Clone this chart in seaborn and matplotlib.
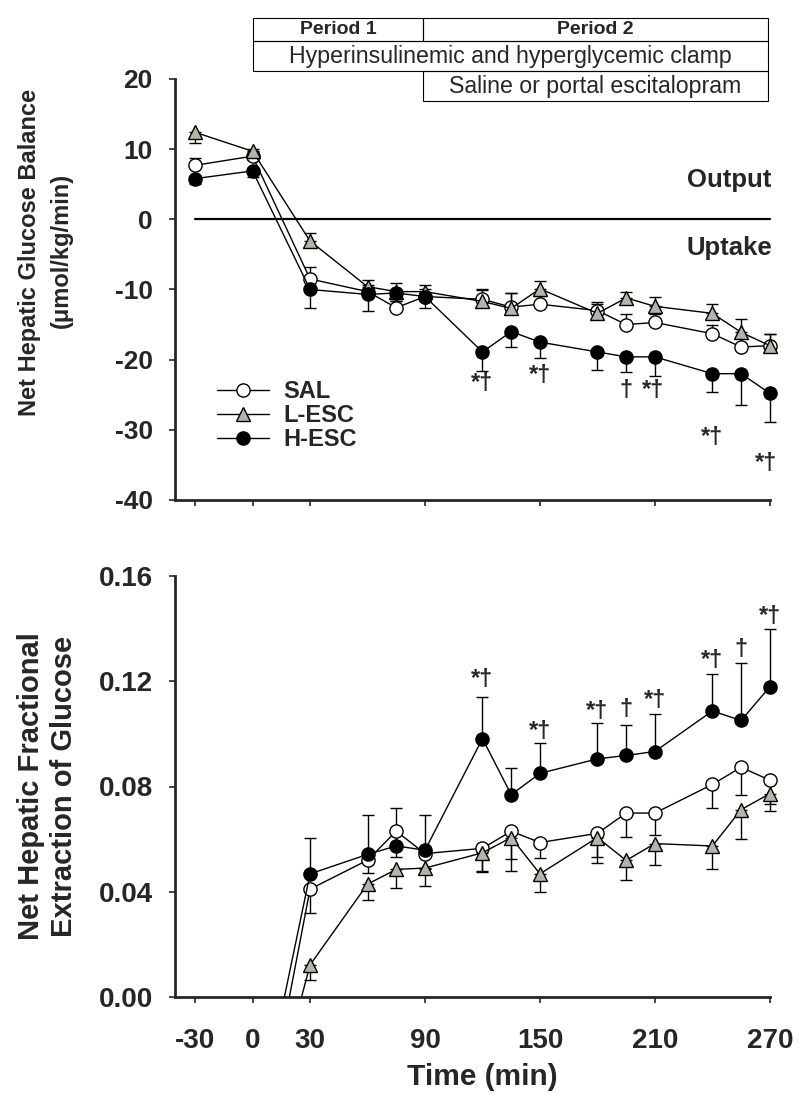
import numpy as np
import seaborn as sns
import matplotlib.pyplot as plt
from matplotlib.patches import Rectangle

# time points (min)
time = [-30, 0, 30, 60, 75, 90, 120, 135, 150, 180, 195, 210, 240, 255, 270]

# Net hepatic glucose balance (umol/kg/min), SEM (sign = direction of bar)
sal_ngb = [7.7, 9.0, -8.5, -10.3, -12.6, -11.0, -11.4, -12.5, -12.1, -13.0, -15.0, -14.7, -16.3, -18.2, -18.0]
sal_ngb_err = [1.0, 1.0, 1.7, 1.0, 1.0, 1.0, 1.3, 2.0, 1.2, 1.0, 1.5, 1.2, 1.2, 1.5, 1.6]
lesc_ngb = [12.4, 9.7, -3.1, -9.6, -10.3, -10.3, -11.7, -12.7, -9.9, -13.4, -11.2, -12.4, -13.4, -16.1, -18.0]
lesc_ngb_err = [-1.5, -1.2, 1.1, 0.9, 1.2, 0.9, 1.7, 2.2, 1.1, 1.6, 0.9, 1.3, 1.3, 1.9, 1.6]
hesc_ngb = [5.8, 6.9, -10.0, -10.7, -10.5, -11.0, -18.9, -16.0, -17.5, -18.9, -19.6, -19.6, -22.0, -22.0, -24.8]
hesc_ngb_err = [-0.8, -0.8, -2.7, -2.4, -1.2, -1.7, -2.7, -2.2, -2.3, -2.6, -2.2, -2.7, -2.6, -4.4, -4.1]

# Net hepatic fractional extraction of glucose
sal_fx = [np.nan, -0.073, 0.041, 0.052, 0.063, 0.0545, 0.0565, 0.063, 0.0587, 0.0622, 0.0699, 0.0699, 0.0808, 0.0873, 0.0824]
sal_fx_err = [np.nan, 0, -0.009, -0.005, -0.0097, -0.006, -0.009, -0.015, -0.006, -0.009, -0.009, -0.0083, -0.009, -0.0104, -0.009]
lesc_fx = [np.nan, -0.07, 0.0122, 0.0429, 0.0485, 0.049, 0.0548, 0.0606, 0.0468, 0.0606, 0.0519, 0.0583, 0.0574, 0.0712, 0.0773]
lesc_fx_err = [np.nan, 0, -0.0057, -0.006, -0.007, -0.007, -0.007, -0.008, -0.007, -0.0095, -0.0073, -0.008, -0.0087, -0.011, -0.0067]
hesc_fx = [np.nan, -0.058, 0.0468, 0.0542, 0.0574, 0.0558, 0.0982, 0.0769, 0.085, 0.0905, 0.0918, 0.0933, 0.1087, 0.1051, 0.1179]
hesc_fx_err = [np.nan, 0, 0.0136, 0.015, 0.0144, 0.0134, 0.016, 0.010, 0.0115, 0.0135, 0.0114, 0.0144, 0.014, 0.022, 0.022]

# significance marks
top_marks = [(120, -23.4, '*†'), (150, -22.2, '*†'), (195, -24.4, '†'), (209, -24.4, '*†'),
             (240, -31.1, '*†'), (268, -34.8, '*†')]
bot_marks = [(120, 0.1205, '*†'), (150, 0.101, '*†'), (180, 0.1085, '*†'), (195, 0.1093, '†'),
             (210, 0.1128, '*†'), (240, 0.1278, '*†'), (255, 0.132, '†'), (270, 0.1447, '*†')]

groups = ['SAL', 'L-ESC', 'H-ESC']
marker_style = {'SAL': ('o', 'white'), 'L-ESC': ('^', '#b3b5a9'), 'H-ESC': ('o', 'black')}

sns.set_style('ticks')
plt.rcParams['font.family'] = ['Liberation Sans', 'DejaVu Sans']
plt.rcParams['font.weight'] = 'bold'
plt.rcParams['axes.unicode_minus'] = False

fig = plt.figure(figsize=(8, 11.02), dpi=100)
W, H = 800, 1102


def fig_ax(x0, y0, x1, y1):
    return fig.add_axes([x0 / W, 1 - y1 / H, (x1 - x0) / W, (y1 - y0) / H])


ax1 = fig_ax(175, 79, 789, 500)
ax2 = fig_ax(175, 576, 789, 997)


def draw(ax, series, errs):
    for g, vals, err in zip(groups, series, errs):
        err = np.array(err, dtype=float)
        lo = np.where(err < 0, -err, 0)
        hi = np.where(err > 0, err, 0)
        ax.errorbar(time, vals, yerr=[lo, hi], fmt='none', ecolor='black',
                    elinewidth=1, capsize=4.5, capthick=1, zorder=2)
        m, fc = marker_style[g]
        sns.lineplot(x=time, y=vals, ax=ax, color='black', lw=1, marker=m,
                     markersize=9.5, markerfacecolor=fc, markeredgecolor='black',
                     markeredgewidth=1, label=g, zorder=3)


draw(ax1, [sal_ngb, lesc_ngb, hesc_ngb], [sal_ngb_err, lesc_ngb_err, hesc_ngb_err])
draw(ax2, [sal_fx, lesc_fx, hesc_fx], [sal_fx_err, lesc_fx_err, hesc_fx_err])

ax1.plot([-30, 270], [0, 0], color='black', lw=1.6, zorder=1)

xt = [-30, 0, 30, 90, 150, 210, 270]
for ax in (ax1, ax2):
    ax.set_xlim(-40.5, 280)
    ax.spines['bottom'].set_bounds(-40.5, 270)
    ax.spines['right'].set_visible(False)
    ax.spines['top'].set_visible(False)
    for s in ('left', 'bottom'):
        ax.spines[s].set_linewidth(2)
    ax.tick_params(direction='out', length=4, width=1.2, pad=12)
    ax.set_xticks(xt)
    ax.set_xlabel('')
    ax.set_ylabel('')

ax1.set_ylim(-40, 20)
ax1.set_yticks([20, 10, 0, -10, -20, -30, -40])
ax1.set_xticklabels([])
ax1.tick_params(axis='y', labelsize=19)
ax2.set_ylim(0, 0.16)
ax2.set_yticks([0.00, 0.04, 0.08, 0.12, 0.16])
ax2.set_yticklabels(['0.00', '0.04', '0.08', '0.12', '0.16'])
ax2.set_xticklabels([str(t) for t in xt])
ax2.tick_params(labelsize=20)
ax2.tick_params(axis='x', pad=18)
for lab in ax1.get_yticklabels() + ax2.get_yticklabels() + ax2.get_xticklabels():
    lab.set_fontweight('bold')

for t, y, s in top_marks:
    ax1.text(t, y, s, ha='center', va='center', fontsize=17, fontweight='bold')
for t, y, s in bot_marks:
    ax2.text(t, y, s, ha='center', va='center', fontsize=17, fontweight='bold')

ax1.text(271, 5.6, 'Output', ha='right', va='center', fontsize=18.5, fontweight='bold')
ax1.text(271, -4.1, 'Uptake', ha='right', va='center', fontsize=18.5, fontweight='bold')

ax1.legend(loc='upper left', bbox_to_anchor=(217 / W, 1 - 380 / H), bbox_transform=fig.transFigure,
           frameon=False, handlelength=2.2, handletextpad=0.6, labelspacing=0.05,
           borderpad=0, borderaxespad=0, prop={'weight': 'bold', 'size': 17})
if ax2.get_legend():
    ax2.get_legend().remove()

# y labels
fig.text(30 / W, 1 - 252 / H, 'Net Hepatic Glucose Balance', rotation=90, ha='center', va='center',
         fontsize=17, fontweight='bold')
fig.text(61 / W, 1 - 250 / H, '(μmol/kg/min)', rotation=90, ha='center', va='center',
         fontsize=17, fontweight='bold')
fig.text(31 / W, 1 - 786 / H, 'Net Hepatic Fractional', rotation=90, ha='center', va='center',
         fontsize=21, fontweight='bold')
fig.text(64 / W, 1 - 786 / H, 'Extraction of Glucose', rotation=90, ha='center', va='center',
         fontsize=21, fontweight='bold')
fig.text(482 / W, 1 - 1077 / H, 'Time (min)', ha='center', va='center', fontsize=21.5, fontweight='bold')

# protocol header boxes
boxes = [(253, 18, 423, 41, 'Period 1', 'bold', 14),
         (423, 18, 768, 41, 'Period 2', 'bold', 14),
         (253, 41, 768, 71, 'Hyperinsulinemic and hyperglycemic clamp', 'normal', 16.7),
         (423, 71, 768, 101, 'Saline or portal escitalopram', 'normal', 16.7)]
for x0, y0, x1, y1, txt, wt, fs in boxes:
    fig.patches.append(Rectangle((x0 / W, 1 - y1 / H), (x1 - x0) / W, (y1 - y0) / H,
                                 transform=fig.transFigure, fill=False, edgecolor='black', lw=0.8))
    fig.text((x0 + x1) / 2 / W, 1 - (y0 + y1) / 2 / H, txt, ha='center', va='center',
             fontsize=fs, fontweight=wt)

fig.savefig('out.png', dpi=100)
plt.close(fig)
